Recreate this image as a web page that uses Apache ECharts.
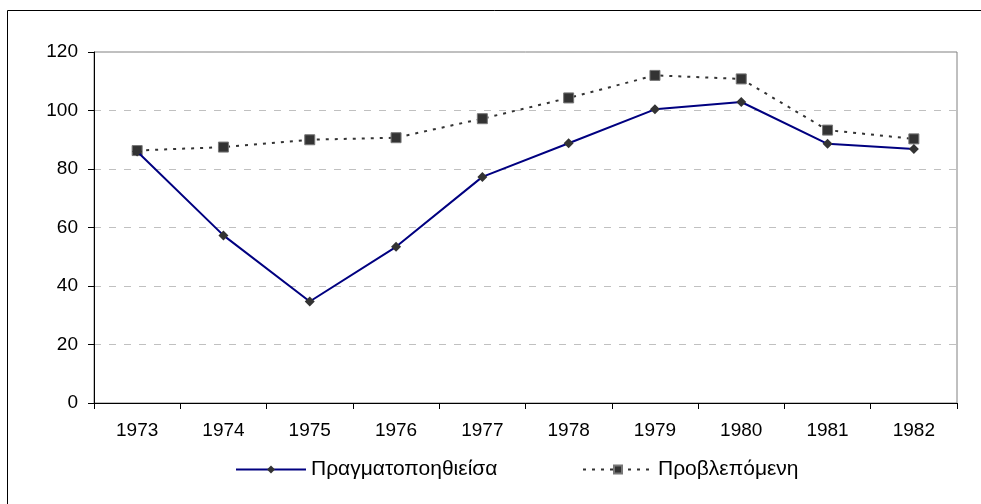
<!DOCTYPE html>
<html style="height:100%;">
<head>
    <meta charset="utf-8">
    <title>Πραγματοποηθιείσα - Προβλεπόμενη</title>
    <script src="https://cdn.jsdelivr.net/npm/echarts@6/dist/echarts.min.js"></script>
</head>
<body style="height: 100%; margin: 0;">
    <div id="main" style="width: 981px; height: 504px;"></div>
    <script type="text/javascript">
    // data
    var years = ['1973', '1974', '1975', '1976', '1977', '1978', '1979', '1980', '1981', '1982'];
    var actual = [86, 57.3, 34.7, 53.4, 77.3, 88.8, 100.4, 102.9, 88.6, 86.8];
    var forecast = [86.3, 87.5, 90, 90.7, 97.2, 104.3, 112, 110.8, 93.3, 90.3];
    var seriesNames = ['Πραγματοποηθιείσα', 'Προβλεπόμενη'];

    var font = 'Liberation Sans, Arial, sans-serif';
    var legendText = { fontSize: 21, color: '#000', fontFamily: font };
    var myChart = echarts.init(document.getElementById('main'));
    myChart.setOption({
        animation: false,
        backgroundColor: '#fff',
        textStyle: { fontFamily: font },
        graphic: [{
            type: 'rect',
            shape: { x: 7.5, y: 10.5, width: 990, height: 510 },
            style: { fill: 'none', stroke: '#000', lineWidth: 1 },
            silent: true
        }],
        grid: {
            left: 94, top: 52, right: 24, bottom: 101,
            show: true, borderColor: '#808080', borderWidth: 1,
            backgroundColor: '#fff'
        },
        // one legend per entry so each sits where the reference has it
        legend: [{
            left: 235, top: 459, padding: 0,
            itemWidth: 70, itemHeight: 10,
            textStyle: legendText,
            data: [seriesNames[0]]
        }, {
            left: 582, top: 459, padding: 0,
            itemWidth: 70, itemHeight: 10,
            textStyle: legendText,
            data: [seriesNames[1]]
        }],
        xAxis: {
            type: 'category',
            data: years,
            boundaryGap: true,
            axisLine: { lineStyle: { color: '#000', width: 1 } },
            axisTick: { show: true, length: 6, inside: false, lineStyle: { color: '#000' } },
            axisLabel: { fontSize: 19, color: '#000', margin: 18, fontFamily: font },
            splitLine: { show: false }
        },
        yAxis: {
            type: 'value',
            min: 0, max: 120, interval: 20,
            axisLine: { show: true, lineStyle: { color: '#000', width: 1 } },
            axisTick: { show: true, length: 6, lineStyle: { color: '#000' } },
            axisLabel: { fontSize: 19, color: '#000', margin: 16, fontFamily: font },
            splitLine: { show: true, lineStyle: { color: '#c0c0c0', type: [7, 8], width: 1 } }
        },
        series: [{
            name: seriesNames[0],
            type: 'line',
            data: actual,
            symbol: 'diamond',
            symbolSize: 10,
            lineStyle: { color: '#000080', width: 2 },
            itemStyle: { color: '#333' },
            z: 3
        }, {
            name: seriesNames[1],
            type: 'line',
            data: forecast,
            symbol: 'rect',
            symbolSize: 10,
            lineStyle: { color: '#333', width: 2, type: [3, 6] },
            itemStyle: { color: '#333', borderColor: '#777', borderWidth: 1 },
            z: 2
        }]
    });
    </script>
</body>
</html>
